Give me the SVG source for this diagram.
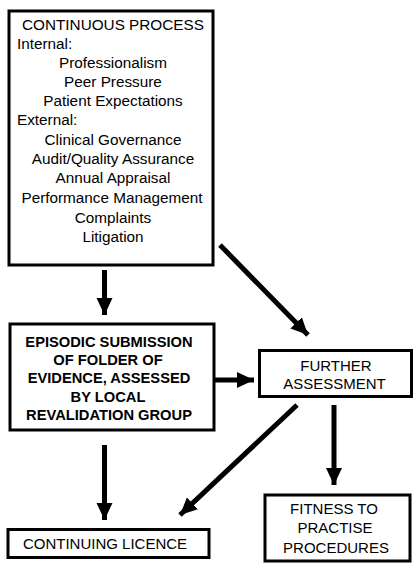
<svg xmlns="http://www.w3.org/2000/svg" width="414" height="563" viewBox="0 0 414 563">
<style>
.box{fill:#fff;stroke:#000;stroke-width:3}
.t{font-family:"Liberation Sans",Arial,sans-serif;font-size:15px;fill:#000}
.p{font-size:15.3px}
.c{text-anchor:middle}
.b{font-weight:bold;font-size:14.7px}
.a{stroke:#000;stroke-width:5;fill:none;marker-end:url(#ah)}
</style>
<defs>
<marker id="ah" markerUnits="userSpaceOnUse" markerWidth="18" markerHeight="17" refX="17" refY="8" orient="auto">
<path d="M0,0 L17,8 L0,16 z" fill="#000"/>
</marker>
</defs>
<g id="continuous">
<rect class="box" x="9" y="11" width="204" height="254"/>
<text class="t p" x="22" y="30">CONTINUOUS PROCESS</text>
<text class="t p" x="17" y="49.3">Internal:</text>
<text class="t p c" x="113" y="68.3">Professionalism</text>
<text class="t p c" x="113" y="87.3">Peer Pressure</text>
<text class="t p c" x="113" y="106.3">Patient Expectations</text>
<text class="t p" x="17" y="125.3">External:</text>
<text class="t p c" x="113" y="145">Clinical Governance</text>
<text class="t p c" x="113" y="164">Audit/Quality Assurance</text>
<text class="t p c" x="113" y="183.3">Annual Appraisal</text>
<text class="t p c" x="112" y="203">Performance Management</text>
<text class="t p c" x="113" y="222.5">Complaints</text>
<text class="t p c" x="113" y="241.7">Litigation</text>
</g>
<g id="episodic">
<rect class="box" x="10" y="324" width="204" height="106"/>
<text class="t c b" x="109" y="346.7">EPISODIC SUBMISSION</text>
<text class="t c b" x="108" y="365">OF FOLDER OF</text>
<text class="t c b" x="109" y="383.3">EVIDENCE, ASSESSED</text>
<text class="t c b" x="108" y="401.7">BY LOCAL</text>
<text class="t c b" x="109" y="420">REVALIDATION GROUP</text>
</g>
<g id="further">
<rect class="box" x="259.5" y="350.5" width="152" height="46"/>
<text class="t c" x="336" y="370.7">FURTHER</text>
<text class="t c" x="334.5" y="389.3">ASSESSMENT</text>
</g>
<g id="fitness">
<rect class="box" x="265" y="495" width="145" height="66"/>
<text class="t c" x="334" y="514">FITNESS TO</text>
<text class="t c" x="335" y="533">PRACTISE</text>
<text class="t c" x="336" y="553">PROCEDURES</text>
</g>
<g id="continuing">
<rect class="box" x="8" y="529.5" width="201" height="28"/>
<text class="t c" x="105" y="549">CONTINUING LICENCE</text>
</g>
<g id="connectors">
<line class="a" x1="104.5" y1="270" x2="104.5" y2="315"/>
<line class="a" x1="215" y1="380" x2="254" y2="380"/>
<line class="a" x1="220" y1="245" x2="308" y2="335"/>
<line class="a" x1="334" y1="405" x2="334" y2="485"/>
<line class="a" x1="297" y1="405" x2="180" y2="515"/>
<line class="a" x1="104.5" y1="445" x2="104.5" y2="520"/>
</g>
</svg>
